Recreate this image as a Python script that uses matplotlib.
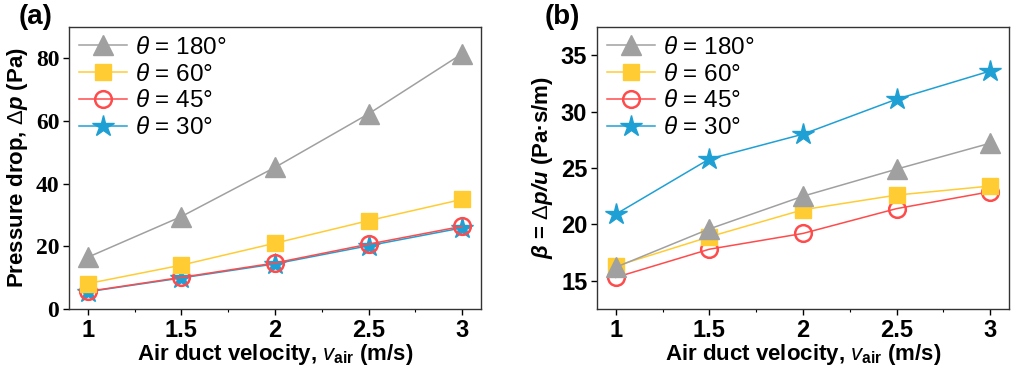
"""Pressure drop and beta vs air duct velocity for several angles."""

import matplotlib.pyplot as plt
from matplotlib.ticker import MultipleLocator

velocity = [1, 1.5, 2, 2.5, 3]

# panel (a): pressure drop (Pa)
dp_180 = [16.5, 29.5, 45.2, 62.3, 81.5]
dp_60 = [8.1, 14.0, 21.0, 28.2, 35.0]
dp_45 = [5.6, 10.1, 14.7, 20.7, 26.4]
dp_30 = [5.5, 9.9, 14.4, 20.2, 25.9]

# panel (b): beta = dp/u (Pa s/m)
beta_180 = [16.2, 19.6, 22.5, 24.9, 27.2]
beta_60 = [16.3, 18.9, 21.3, 22.6, 23.4]
beta_45 = [15.3, 17.8, 19.2, 21.4, 22.9]
beta_30 = [20.9, 25.8, 28.0, 31.1, 33.6]

labels = [r"$\theta$ = 180°", r"$\theta$ = 60°", r"$\theta$ = 45°", r"$\theta$ = 30°"]

GRAY = "#a0a0a0"
YELLOW = "#ffcc33"
RED = "#ff4b4b"
BLUE = "#1fa0d4"

plt.rcParams["font.family"] = ["Liberation Sans", "DejaVu Sans"]
plt.rcParams["mathtext.fontset"] = "custom"
plt.rcParams["mathtext.it"] = "Liberation Sans:italic"
plt.rcParams["mathtext.bf"] = "Liberation Sans:bold:italic"
plt.rcParams["mathtext.rm"] = "Liberation Sans"


def draw(ax, s180, s60, s45, s30):
    # draw in reverse order so triangles end up on top
    h30, = ax.plot(velocity, s30, color=BLUE, lw=1.1, marker="*", ms=16,
                   mec=BLUE, mfc=BLUE, zorder=2)
    h45, = ax.plot(velocity, s45, color=RED, lw=1.1, marker="o", ms=12,
                   mec=RED, mfc="none", mew=1.8, zorder=3)
    h60, = ax.plot(velocity, s60, color=YELLOW, lw=1.1, marker="s", ms=12,
                   mec=YELLOW, mfc=YELLOW, zorder=4)
    h180, = ax.plot(velocity, s180, color=GRAY, lw=1.1, marker="^", ms=15,
                    mec=GRAY, mfc=GRAY, zorder=5)
    ax.legend([h180, h60, h45, h30], labels, loc="upper left", frameon=False,
              fontsize=17.5, handlelength=2.0, handletextpad=0.3,
              labelspacing=0.2, borderaxespad=0.1, borderpad=0.3)
    ax.set_xlim(0.9, 3.1)
    ax.set_xticks(velocity)
    ax.set_xticklabels(["1", "1.5", "2", "2.5", "3"])
    ax.xaxis.set_minor_locator(MultipleLocator(0.25))
    ax.tick_params(which="major", direction="out", length=4, width=1.0,
                   labelsize=17, pad=3)
    ax.tick_params(which="minor", direction="out", length=2.5, width=0.8)
    for lbl in ax.get_xticklabels():
        lbl.set_fontweight("bold")
    for sp in ax.spines.values():
        sp.set_linewidth(1.0)
        sp.set_color("#333333")
    ax.set_xlabel(r"Air duct velocity, $v_{\mathregular{air}}$ (m/s)",
                  fontsize=16, fontweight="bold", labelpad=0)


fig = plt.figure(figsize=(10.24, 3.78), dpi=100)
ax1 = fig.add_axes([69 / 1024, 1 - 309 / 378, 412 / 1024, 282 / 378])
ax2 = fig.add_axes([597 / 1024, 1 - 309 / 378, 412 / 1024, 282 / 378])

draw(ax1, dp_180, dp_60, dp_45, dp_30)
ax1.set_ylim(0, 90)
ax1.set_yticks([0, 20, 40, 60, 80])
for lbl in ax1.get_yticklabels():
    lbl.set_fontfamily("Liberation Serif")
    lbl.set_fontweight("bold")
ax1.set_ylabel(r"Pressure drop, $\Delta$$\mathbf{p}$ (Pa)", fontsize=16,
               fontweight="bold", labelpad=4)

draw(ax2, beta_180, beta_60, beta_45, beta_30)
ax2.set_ylim(12.5, 37.5)
ax2.set_yticks([15, 20, 25, 30, 35])
for lbl in ax2.get_yticklabels():
    lbl.set_fontweight("bold")
ax2.set_ylabel(r"$\mathbf{\beta}$ = $\Delta$$\mathbf{p/u}$ (Pa·s/m)",
               fontsize=16, fontweight="bold", labelpad=4)

fig.text(19 / 1024, 1 - 17 / 378, "(a)", fontsize=20, fontweight="bold",
         va="center", ha="left")
fig.text(545 / 1024, 1 - 17 / 378, "(b)", fontsize=20, fontweight="bold",
         va="center", ha="left")

fig.savefig("out.png", dpi=100)
